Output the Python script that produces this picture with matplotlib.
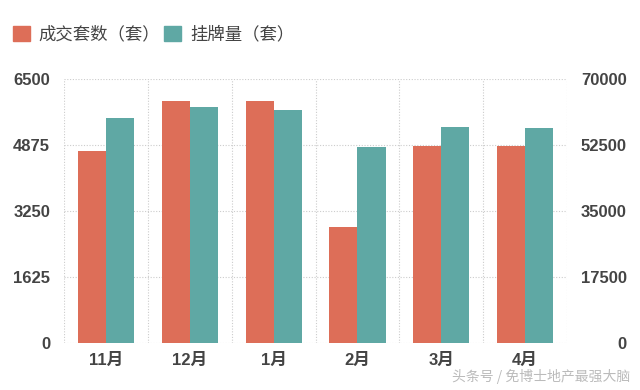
import matplotlib
matplotlib.use('agg')

import matplotlib.pyplot as plt
import matplotlib.ticker as ticker
import numpy as np

months = ['11月', '12月', '1月', '2月', '3月', '4月']
deals = [4730, 5960, 5960, 2850, 4860, 4860]            # 成交套数（套）, left axis
listings = [59600, 62600, 61700, 52000, 57300, 57150]   # 挂牌量（套）, right axis
left_ticks = [0, 1625, 3250, 4875, 6500]
right_ticks = [0, 17500, 35000, 52500, 70000]

orange = '#DD6E58'
teal = '#5FA8A4'
txt = '#444444'
cjk = ['Liberation Sans', 'Noto Sans CJK SC', 'DejaVu Sans']


def main():
    plt.rcParams['font.family'] = cjk

    fig = plt.figure(figsize=(6.4, 3.9), dpi=100)
    ax = fig.add_axes([0.1, 0.1205, 0.786, 0.6765])
    ax2 = ax.twinx()

    x = np.arange(len(months))
    width = 0.335
    ax.bar(x - width / 2, deals, width=width, color=orange, edgecolor='none', zorder=3)
    ax2.bar(x + width / 2, listings, width=width, color=teal, edgecolor='none', zorder=3)

    ax.set_xlim(-0.5, len(months) - 0.5)
    ax.set_ylim(0, 6500)
    ax2.set_ylim(0, 70000)
    ax.yaxis.set_major_locator(ticker.FixedLocator(left_ticks))
    ax2.yaxis.set_major_locator(ticker.FixedLocator(right_ticks))
    ax.set_yticklabels([str(v) for v in left_ticks])
    ax2.set_yticklabels([str(v) for v in right_ticks])

    # month labels at centre, dotted grid at month boundaries
    ax.xaxis.set_major_locator(ticker.FixedLocator(x))
    ax.xaxis.set_minor_locator(ticker.FixedLocator(np.arange(-0.5, len(months), 1.0)))
    ax.set_xticklabels(months)
    ax.grid(True, which='minor', axis='x', color='#cccccc', linestyle=(0, (1, 1.5)), linewidth=0.8)
    ax.grid(True, which='major', axis='y', color='#cccccc', linestyle=(0, (1, 1.5)), linewidth=0.8)
    ax.set_axisbelow(True)

    for a in (ax, ax2):
        for s in a.spines.values():
            s.set_visible(False)
    ax.tick_params('x', which='both', length=0, pad=7, labelsize=12, labelcolor=txt)
    ax.tick_params('y', length=0, pad=10, labelsize=12, labelcolor=txt)
    ax2.tick_params('y', length=0, pad=43, labelsize=12, labelcolor=txt)
    for lab in ax.get_xticklabels() + ax.get_yticklabels() + ax2.get_yticklabels():
        lab.set_fontweight('bold')
    for lab in ax2.get_yticklabels():
        lab.set_horizontalalignment('right')

    # legend drawn by hand at top left
    lfont = ['Noto Sans CJK SC', 'DejaVu Sans']
    fig.patches.append(plt.Rectangle((13 / 640, 1 - 41 / 390), 17 / 640, 15 / 390,
                                     transform=fig.transFigure, color=orange))
    fig.text(38 / 640, 1 - 34 / 390, '成交套数（套）', fontsize=12.5, color=txt,
             va='center', family=lfont, fontweight='medium')
    fig.patches.append(plt.Rectangle((164 / 640, 1 - 41 / 390), 17 / 640, 15 / 390,
                                     transform=fig.transFigure, color=teal))
    fig.text(190 / 640, 1 - 34 / 390, '挂牌量（套）', fontsize=12.5, color=txt,
             va='center', family=lfont, fontweight='medium')

    fig.text(630 / 640, 1 - 377 / 390, '头条号 / 免博士地产最强大脑', fontsize=10,
             color='#bbbbbb', ha='right', va='center', family=lfont)

    fig.savefig('out.png', dpi=100, facecolor='white')


if __name__ == "__main__":
    main()
